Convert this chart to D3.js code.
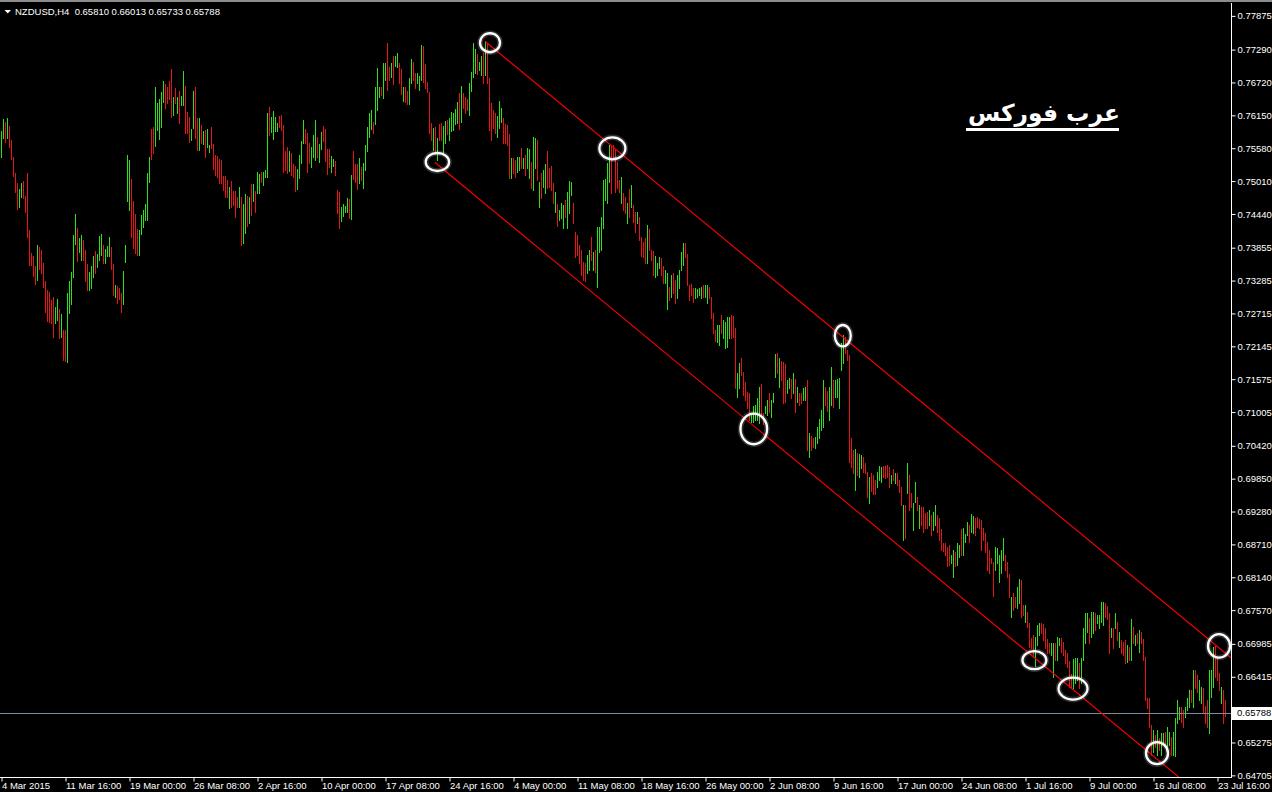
<!DOCTYPE html>
<html><head><meta charset="utf-8">
<script src="https://cdn.jsdelivr.net/npm/d3@7"></script>
<style>html,body{margin:0;padding:0;background:#000;overflow:hidden}</style>
</head><body>
<svg id="chart" width="1272" height="792"></svg>
<script>
// ---------------- DATA ----------------
const symbolTitle = "NZDUSD,H4  0.65810 0.66013 0.65733 0.65788";
const lastPrice = 0.65788;
const watermark = "عرب فوركس";

// (0.65845 lies under the current-price label and is not shown)
const priceTicks = [0.77875,0.77290,0.76720,0.76150,0.75580,0.75010,0.74440,0.73855,0.73285,0.72715,
  0.72145,0.71575,0.71005,0.70420,0.69850,0.69280,0.68710,0.68140,0.67570,0.66985,0.66415,0.65275,0.64705];

const timeTickBars = [0,32,64,96,128,160,192,224,256,288,320,352,384,416,448,480,512,544,576,608];
const timeTickLabels = ["4 Mar 2015","11 Mar 16:00","19 Mar 00:00","26 Mar 08:00","2 Apr 16:00","10 Apr 00:00",
  "17 Apr 08:00","24 Apr 16:00","4 May 00:00","11 May 08:00","18 May 16:00","26 May 00:00","2 Jun 08:00",
  "9 Jun 16:00","17 Jun 00:00","24 Jun 08:00","1 Jul 16:00","9 Jul 00:00","16 Jul 08:00","23 Jul 16:00"];

// H4 bar highs and lows, in units of 0.0001
const highPips = [
7587,7609,7603,7611,7597,7572,7543,7515,7498,7487, 7498,7501,7475,7515,7416,7376,7371,7354,7390,7387,
7381,7359,7328,7312,7309,7295,7300,7283,7297,7279, 7270,7243,7243,7307,7328,7343,7408,7444,7420,7402,
7408,7399,7381,7357,7343,7354,7371,7380,7375,7406, 7409,7390,7383,7388,7404,7387,7357,7321,7319,7316,
7307,7345,7390,7546,7538,7505,7466,7444,7418,7416, 7442,7451,7461,7515,7543,7591,7595,7664,7636,7643,
7655,7675,7669,7664,7675,7695,7647,7662,7647,7657, 7649,7692,7666,7621,7612,7591,7657,7664,7610,7610,
7598,7588,7590,7591,7564,7595,7565,7546,7545,7539, 7538,7510,7510,7503,7491,7501,7484,7484,7473,7491,
7473,7461,7479,7475,7473,7496,7496,7484,7517,7513, 7517,7517,7520,7619,7629,7612,7623,7612,7602,7614,
7616,7598,7553,7560,7553,7550,7531,7527,7522,7546, 7571,7607,7591,7584,7567,7560,7581,7607,7577,7565,
7586,7597,7591,7557,7557,7545,7539,7536,7486,7482, 7456,7461,7458,7472,7470,7512,7553,7531,7531,7541,
7525,7532,7564,7595,7619,7624,7603,7664,7697,7664, 7664,7706,7706,7740,7699,7706,7718,7718,7723,7706,
7695,7664,7664,7657,7680,7713,7708,7688,7688,7683, 7737,7735,7704,7673,7655,7602,7593,7595,7576,7600,
7602,7597,7605,7607,7610,7621,7619,7626,7638,7654, 7666,7654,7647,7643,7671,7690,7740,7730,7721,7707,
7718,7723,7744,7740,7680,7636,7624,7619,7614,7640, 7628,7610,7600,7598,7583,7541,7541,7538,7543,7543,
7558,7541,7546,7558,7557,7534,7577,7576,7572,7499, 7515,7520,7531,7553,7524,7527,7498,7482,7461,7451,
7463,7460,7468,7482,7501,7499,7463,7413,7407,7390, 7381,7361,7359,7373,7381,7404,7378,7381,7421,7421,
7439,7503,7505,7532,7564,7562,7564,7555,7534,7503, 7508,7480,7473,7463,7487,7494,7460,7447,7447,7439,
7404,7395,7402,7425,7418,7381,7380,7371,7359,7369, 7368,7354,7347,7342,7317,7338,7342,7329,7338,7347,
7378,7394,7394,7375,7321,7323,7316,7316,7314,7316, 7317,7321,7321,7321,7317,7300,7272,7243,7251,7251,
7269,7260,7257,7265,7265,7269,7267,7246,7168,7185, 7194,7170,7153,7135,7134,7095,7111,7113,7125,7144,
7149,7099,7111,7121,7134,7121,7134,7201,7203,7194, 7189,7187,7184,7156,7160,7158,7168,7158,7144,7134,
7134,7142,7144,7156,7064,7059,7056,7057,7075,7088, 7104,7156,7144,7137,7144,7179,7156,7156,7158,7160,
7220,7234,7231,7208,7199,7056,7035,7036,7030,7028, 7026,7023,7012,6997,6988,6995,6991,6983,6997,7007,
7005,7007,7007,7009,7005,6991,7002,6995,6995,6983, 6971,6939,6939,7012,6991,6960,6943,6979,6953,6939,
6936,6936,6926,6927,6931,6922,6927,6939,6922,6917, 6898,6873,6873,6867,6870,6853,6861,6858,6873,6870,
6898,6899,6889,6910,6905,6924,6920,6917,6919,6915, 6913,6899,6891,6875,6861,6847,6840,6867,6865,6853,
6861,6882,6853,6840,6820,6780,6787,6780,6797,6811, 6809,6766,6766,6754,6735,6709,6714,6710,6731,6735,
6735,6733,6726,6707,6700,6700,6700,6700,6710,6709, 6709,6702,6688,6683,6669,6646,6672,6674,6674,6665,
6674,6726,6752,6752,6743,6754,6754,6752,6749,6749, 6771,6771,6769,6764,6752,6726,6726,6752,6736,6719,
6705,6702,6705,6697,6693,6742,6728,6714,6717,6723, 6719,6707,6676,6605,6605,6558,6549,6540,6549,6535,
6544,6544,6546,6554,6546,6537,6546,6570,6601,6589, 6589,6584,6589,6605,6619,6619,6653,6653,6645,6636,
6624,6622,6591,6601,6653,6653,6693,6695,6674,6648, 6624,6619,6601];

const lowPips = [
7543,7576,7569,7576,7560,7539,7510,7482,7453,7456, 7473,7472,7447,7404,7355,7355,7336,7322,7329,7349,
7342,7317,7274,7258,7257,7255,7231,7255,7260,7229, 7231,7191,7189,7187,7272,7288,7335,7392,7362,7378,
7364,7364,7328,7312,7312,7316,7335,7342,7352,7364, 7373,7359,7359,7371,7371,7349,7303,7300,7290,7297,
7274,7288,7361,7466,7451,7404,7385,7376,7373,7373, 7409,7421,7434,7434,7499,7539,7550,7562,7590,7574,
7595,7638,7628,7636,7643,7612,7616,7636,7619,7602, 7633,7633,7584,7584,7569,7572,7593,7576,7555,7555,
7567,7565,7543,7560,7551,7558,7522,7512,7508,7498, 7498,7486,7473,7473,7454,7456,7460,7439,7456,7456,
7390,7394,7411,7423,7428,7442,7466,7447,7480,7480, 7499,7494,7508,7508,7581,7586,7574,7588,7588,7595,
7590,7517,7520,7515,7518,7512,7508,7484,7487,7506, 7532,7567,7567,7517,7532,7525,7543,7538,7543,7534,
7557,7571,7536,7513,7525,7517,7527,7512,7446,7420, 7432,7440,7447,7447,7437,7435,7505,7499,7487,7498,
7503,7489,7520,7553,7577,7591,7584,7600,7624,7647, 7650,7645,7676,7659,7676,7681,7669,7701,7699,7671,
7652,7640,7638,7635,7635,7671,7676,7662,7671,7659, 7676,7673,7662,7655,7584,7572,7555,7550,7538,7572,
7572,7550,7567,7583,7572,7588,7590,7600,7602,7591, 7603,7628,7619,7624,7616,7657,7681,7688,7687,7694,
7685,7671,7685,7671,7590,7572,7593,7584,7577,7593, 7603,7567,7567,7564,7506,7506,7515,7508,7517,7520,
7524,7524,7512,7524,7506,7489,7486,7524,7503,7456, 7472,7491,7480,7489,7491,7486,7463,7447,7423,7434,
7437,7420,7439,7420,7446,7477,7428,7369,7373,7359, 7338,7329,7328,7342,7347,7364,7347,7343,7317,7378,
7381,7420,7468,7463,7499,7480,7541,7482,7489,7482, 7463,7451,7446,7428,7439,7456,7430,7413,7428,7399,
7371,7369,7359,7359,7381,7364,7338,7335,7338,7350, 7338,7324,7324,7279,7295,7300,7307,7290,7298,7316,
7347,7356,7369,7321,7295,7303,7291,7298,7300,7303, 7298,7300,7300,7290,7298,7264,7238,7224,7222,7217,
7238,7229,7212,7213,7229,7229,7231,7142,7127,7142, 7165,7130,7121,7108,7087,7083,7083,7087,7087,7082,
7095,7080,7099,7095,7101,7092,7118,7161,7168,7144, 7156,7116,7118,7134,7142,7125,7134,7101,7118,7113,
7116,7121,7121,7035,7023,7035,7040,7038,7047,7056, 7069,7075,7113,7102,7087,7113,7109,7127,7127,7108,
7173,7186,7203,7191,7014,7005,6995,6965,6991,6988, 7004,6997,6995,6953,6943,6964,6958,6958,6971,6983,
6979,6988,6986,6988,6971,6978,6983,6978,6974,6962, 6939,6879,6882,6960,6931,6936,6896,6945,6931,6900,
6905,6893,6900,6900,6905,6887,6896,6905,6893,6879, 6861,6860,6853,6834,6835,6839,6814,6834,6835,6849,
6853,6853,6875,6887,6875,6893,6891,6887,6901,6899, 6861,6879,6858,6827,6821,6839,6782,6827,6839,6806,
6821,6844,6827,6814,6780,6745,6757,6762,6761,6769, 6745,6749,6736,6728,6693,6691,6676,6660,6697,6714,
6717,6705,6691,6683,6683,6679,6641,6671,6671,6697, 6684,6679,6665,6658,6624,6622,6622,6631,6636,6622,
6631,6671,6700,6719,6700,6710,6717,6723,6735,6726, 6736,6731,6745,6742,6683,6710,6691,6726,6705,6693,
6683,6679,6665,6667,6671,6671,6700,6697,6700,6684, 6700,6671,6601,6587,6554,6506,6511,6520,6506,6514,
6506,6528,6520,6518,6523,6506,6506,6504,6561,6568, 6563,6554,6572,6584,6589,6598,6589,6622,6615,6601,
6596,6580,6561,6554,6544,6606,6624,6641,6636,6619, 6596,6561,6573];

// u = bullish bar, d = bearish bar
const barDirs = (
"uududddddu udddddddud ddddddduud udduuuuudu uddduuuduu uduuuddudd duuuuddddu uuuuudduuu uuddddudud uuddduuddu " +
"duduuddddd dddduddddu duudududuu duuuduuuud dddduddduu uuddduuudu udddduuddd uuuududddu duuuuuduuu duudduduud " +
"dudduudduu udddddudud duuduuuuud uddduuuudu ududdddduu uddddudduu duduuduudu duuddddudu uuduuudddd ddduududuu " +
"uuuuuddddd uddududdud ddduddduuu dduududduu uuddddduuu uduudddduu duuuuddduu ddddduuuuu dduuduuudu ddduududud " +
"duududduuu uudduuduuu uudddddudu uddduddduu uddddududd dududduudu dddduduudd ddddduuduu duuuduuddd ddddddduuu " +
"uudddudduu ddudddduuu ddddduuduu dddddduuud uuuuduuduu uudddududu dddudududu ddddddudud uuduuduuuu dduuududdu " +
"uddduuuddd udd").replace(/ /g, "");

// Equidistant channel anchor points (bar index, price)
const channelUpper = [{bar: 242, price: 0.77434}, {bar: 615, price: 0.66745}];
const channelLower = [{bar: 217, price: 0.75332}, {bar: 615, price: 0.63927}];

// Circled touch points (bar index, price)
const markerBars   = [244.5, 218.2, 305.7, 420.9, 376.4, 516.7, 536.0, 578.0, 609.0];
const markerPrices = [0.77409, 0.75341, 0.75578, 0.72329, 0.70712, 0.66702, 0.66210, 0.65090, 0.66950];

// ---------------- STYLE / LAYOUT ----------------
const W = 1272, H = 792;
const plotRight = 1231, plotTop = 3, plotBottom = 777;
const markerRx = [10, 11.7, 13, 8, 13.3, 12, 14.5, 11, 11];
const markerRy = [9.5, 9, 11, 10.7, 15.3, 9, 11, 11, 11.7];
const upColor = "#2fe01c", downColor = "#e41616";
const font = "'Liberation Sans', Arial, sans-serif";

const svg = d3.select("#chart");
svg.append("rect").attr("width", W).attr("height", H).attr("fill", "#000");

const x = d3.scaleLinear().domain([0, 615]).range([1, 1231]);
const y = d3.scaleLinear().domain([0.64705, 0.77875]).range([775.37, 15.86]);

svg.append("defs").append("clipPath").attr("id", "plotClip")
  .append("rect").attr("x", 0).attr("y", plotTop).attr("width", plotRight).attr("height", plotBottom - plotTop);

// top window strip
svg.append("rect").attr("x", 0).attr("y", 0).attr("width", W).attr("height", 2).attr("fill", "#8c8c8c");

// bars
const bars = highPips.map((h, i) => ({i, high: h / 10000, low: lowPips[i] / 10000,
  up: barDirs[i] ? barDirs[i] === "u" : (i > 0 && h + lowPips[i] >= highPips[i-1] + lowPips[i-1])}));

const gPlot = svg.append("g").attr("clip-path", "url(#plotClip)");
gPlot.append("g").attr("shape-rendering", "crispEdges")
  .selectAll("rect").data(bars).join("rect")
  .attr("x", d => Math.round(x(d.i)))
  .attr("width", 1)
  .attr("y", d => Math.round(y(d.high)))
  .attr("height", d => Math.max(1, Math.round(y(d.low)) - Math.round(y(d.high)) + 1))
  .attr("fill", d => d.up ? upColor : downColor);

// current price line
gPlot.append("line").attr("x1", 0).attr("x2", plotRight)
  .attr("y1", Math.round(y(lastPrice)) + 0.5).attr("y2", Math.round(y(lastPrice)) + 0.5)
  .attr("stroke", "#7a8aa0").attr("stroke-width", 1).attr("shape-rendering", "crispEdges");

// channel lines
const chLine = d3.line().x(d => x(d.bar)).y(d => y(d.price));
[channelUpper, channelLower].forEach(c => {
  gPlot.append("path").attr("d", chLine(c)).attr("fill", "none")
    .attr("stroke", "#ff0000").attr("stroke-width", 1.1);
});

// circles
const gMark = svg.append("g");
markerBars.forEach((b, i) => {
  gMark.append("ellipse").attr("cx", x(b)).attr("cy", y(markerPrices[i]))
    .attr("rx", markerRx[i]).attr("ry", markerRy[i])
    .attr("fill", "none").attr("stroke", "rgba(255,255,255,0.18)").attr("stroke-width", 5.5);
  gMark.append("ellipse").attr("cx", x(b)).attr("cy", y(markerPrices[i]))
    .attr("rx", markerRx[i]).attr("ry", markerRy[i])
    .attr("fill", "none").attr("stroke", "#fff").attr("stroke-width", 2.3);
});

// frame
svg.append("line").attr("x1", plotRight + 0.5).attr("x2", plotRight + 0.5).attr("y1", plotTop).attr("y2", plotBottom + 1)
  .attr("stroke", "#fff");
svg.append("line").attr("x1", 0).attr("x2", plotRight + 1).attr("y1", plotBottom + 0.5).attr("y2", plotBottom + 0.5)
  .attr("stroke", "#fff");

// right price axis
const yAxis = d3.axisRight(y).tickValues(priceTicks).tickSize(4).tickPadding(2)
  .tickFormat(d3.format(".5f"));
const gy = svg.append("g").attr("transform", `translate(${plotRight + 0.5},0)`).call(yAxis);
gy.select(".domain").remove();
gy.selectAll(".tick line").attr("stroke", "#fff");
gy.selectAll(".tick text").attr("fill", "#fff").style("font", `9.5px ${font}`);

// current price label
const lpY = y(lastPrice);
svg.append("rect").attr("x", plotRight + 1).attr("y", Math.round(lpY) - 6).attr("width", W - plotRight - 1).attr("height", 13)
  .attr("fill", "#fff");
svg.append("text").attr("x", plotRight + 6).attr("y", lpY).attr("dy", "0.35em")
  .attr("fill", "#000").style("font", `9.5px ${font}`).text(d3.format(".5f")(lastPrice));

// bottom time axis
const xAxis = d3.axisBottom(x).tickValues(timeTickBars).tickSize(4).tickPadding(1)
  .tickFormat((d, i) => timeTickLabels[i]);
const gx = svg.append("g").attr("transform", `translate(0.5,${plotBottom + 0.5})`).call(xAxis);
gx.select(".domain").remove();
gx.selectAll(".tick line").attr("stroke", "#fff");
gx.selectAll(".tick text").attr("fill", "#fff").attr("text-anchor", "start").attr("x", 0)
  .style("font", `9.5px ${font}`);

// title
svg.append("path").attr("d", "M4.5,10 L11,10 L7.75,13.5 Z").attr("fill", "#fff");
svg.append("text").attr("x", 15).attr("y", 15).attr("fill", "#fff")
  .style("font", `9.5px ${font}`).attr("xml:space", "preserve").style("white-space", "pre").text(symbolTitle);

// watermark
const wm = svg.append("text").attr("x", 1044).attr("y", 121).attr("text-anchor", "middle")
  .attr("fill", "#fff").style("font-family", "'DejaVu Sans', sans-serif").style("font-weight", "bold")
  .style("font-size", "26px").text(watermark);
try {
  const bb = wm.node().getBBox();
  if (bb.width > 0) wm.style("font-size", (26 * 152 / bb.width) + "px");
} catch (e) {}
svg.append("rect").attr("x", 966).attr("y", 128).attr("width", 153).attr("height", 3).attr("fill", "#fff");
</script>
</body></html>
